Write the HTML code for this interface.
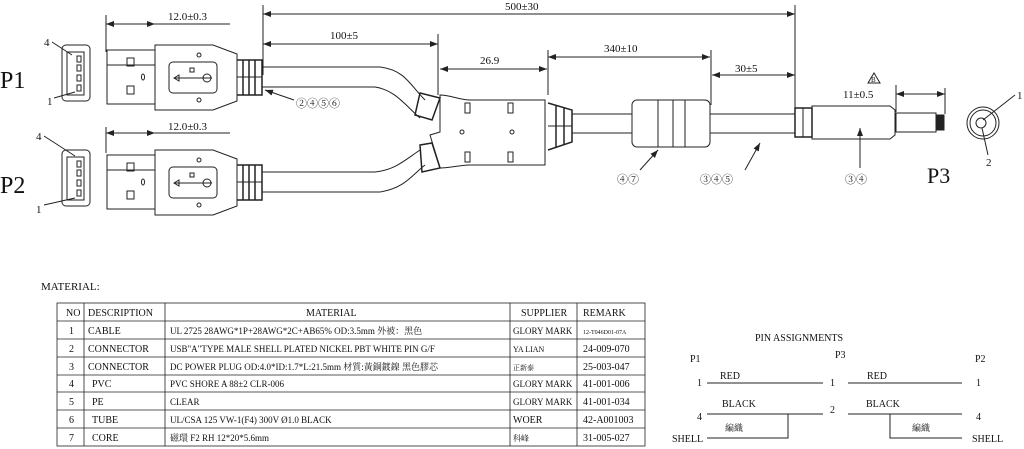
<!DOCTYPE html>
<html><head><meta charset="utf-8"><style>
body{margin:0;background:#fff}
svg{display:block}
text{font-family:"Liberation Serif","Noto Serif CJK SC",serif;fill:#111}
.t{font-size:11px}
.s{font-size:10px}
</style></head><body>
<svg width="1024" height="449" viewBox="0 0 1024 449" xmlns="http://www.w3.org/2000/svg" fill="none" stroke="#222" stroke-width="1">
<defs><marker id="a" markerWidth="8" markerHeight="6" refX="8" refY="3" orient="auto-start-reverse"><path d="M0,0 L8,3 L0,6z" fill="#222" stroke="none"/></marker></defs>

<line x1="263" y1="5" x2="263" y2="75"/><line x1="795" y1="5" x2="795" y2="110"/>
<line x1="263" y1="14" x2="795" y2="14" marker-start="url(#a)" marker-end="url(#a)"/>
<text x="505" y="10" class="t" stroke="none">500±30</text>
<line x1="263" y1="44" x2="438" y2="44" marker-start="url(#a)" marker-end="url(#a)"/><line x1="438" y1="34" x2="438" y2="95"/>
<text x="330" y="39" class="t" stroke="none">100±5</text>
<line x1="440" y1="69" x2="547" y2="69" marker-start="url(#a)" marker-end="url(#a)"/><line x1="548" y1="50" x2="548" y2="95"/>
<text x="480" y="64" class="t" stroke="none">26.9</text>
<line x1="548" y1="57" x2="710" y2="57" marker-start="url(#a)" marker-end="url(#a)"/><line x1="711" y1="50" x2="711" y2="105"/>
<text x="604" y="52" class="t" stroke="none">340±10</text>
<line x1="712" y1="75" x2="795" y2="75" marker-start="url(#a)" marker-end="url(#a)"/>
<text x="735" y="72" class="t" stroke="none">30±5</text>
<line x1="106" y1="15" x2="106" y2="52"/><line x1="106" y1="24" x2="155" y2="24" marker-start="url(#a)" marker-end="url(#a)"/><line x1="155" y1="24" x2="230" y2="24"/>
<text x="168" y="20" class="t" stroke="none">12.0±0.3</text>
<line x1="106" y1="127" x2="106" y2="153"/><line x1="106" y1="133" x2="155" y2="133" marker-start="url(#a)" marker-end="url(#a)"/><line x1="155" y1="133" x2="230" y2="133"/>
<text x="168" y="130" class="t" stroke="none">12.0±0.3</text>

<text x="0" y="88" font-size="24" stroke="none">P1</text>
<text x="0" y="193" font-size="24" stroke="none">P2</text>
<text x="927" y="183" font-size="22" stroke="none" font-family="Liberation Sans">P3</text>

<g id="ev">
<rect x="62" y="45" width="28" height="56" rx="4"/><rect x="67" y="52" width="17" height="43"/>
<rect x="77" y="56" width="4" height="6"/><rect x="77" y="65" width="4" height="6"/><rect x="77" y="75" width="4" height="6"/><rect x="77" y="85" width="4" height="6"/>
</g>
<use href="#ev" y="105"/>
<text x="44" y="46" class="t" stroke="none">4</text><line x1="52" y1="42" x2="72" y2="55"/>
<text x="47" y="105" class="t" stroke="none">1</text><line x1="54" y1="98" x2="75" y2="92"/>
<text x="36" y="140" class="t" stroke="none">4</text><line x1="44" y1="136" x2="75" y2="156"/>
<text x="36" y="213" class="t" stroke="none">1</text><line x1="44" y1="205" x2="75" y2="198"/>

<g id="pl">
<rect x="107" y="50" width="48" height="54"/><line x1="107" y1="65" x2="155" y2="65"/>
<rect x="127" y="58" width="7" height="8"/><rect x="127" y="86" width="7" height="8"/><ellipse cx="143" cy="77" rx="1.5" ry="3"/>
<path d="M155,45 H213 L237,54 V101 L213,110 H155Z"/>
<rect x="169" y="62" width="48" height="31" rx="4"/>
<circle cx="199" cy="55" r="2"/><circle cx="199" cy="100" r="2"/>
<line x1="174" y1="78" x2="212" y2="78"/><path d="M174,78 l5,-3 v6z"/><circle cx="207" cy="78" r="4"/><rect x="190" y="68" width="4" height="4"/>
<path d="M237,60 H262 V95 H237" stroke-width="1.5"/><line x1="243" y1="60" x2="243" y2="95" stroke-width="1.5"/><line x1="249" y1="60" x2="249" y2="95" stroke-width="1.5"/><line x1="255" y1="60" x2="255" y2="95" stroke-width="1.5"/><line x1="237" y1="77" x2="262" y2="77"/>
</g>
<use href="#pl" y="105"/>

<path d="M262,67 H380 C405,70 410,85 425,100"/>
<path d="M262,87 H375 C395,90 405,105 420,118"/>
<path d="M262,172 H375 C395,170 405,160 420,150"/>
<path d="M262,192 H380 C405,188 412,175 425,165"/>
<path d="M420,93 L440,98 L432,120 L415,115Z" stroke-width="1.5"/><path d="M420,145 L432,143 L440,168 L422,172Z" stroke-width="1.5"/>
<path d="M440,95 C450,95 460,100 470,100 H545 V165 H470 C460,165 450,168 440,168 L430,135 L440,132Z" />
<rect x="465" y="103" width="5" height="10"/><rect x="508" y="103" width="5" height="10"/>
<rect x="465" y="152" width="5" height="10"/><rect x="508" y="152" width="5" height="10"/>
<circle cx="462" cy="132" r="2"/><circle cx="512" cy="132" r="2"/>
<path d="M548,103 L572,110 V142 L548,150" stroke-width="1.5"/><line x1="556" y1="105" x2="556" y2="147" stroke-width="1.5"/><line x1="564" y1="107" x2="564" y2="145" stroke-width="1.5"/><line x1="548" y1="126" x2="572" y2="126"/>

<line x1="572" y1="114" x2="632" y2="114"/><line x1="572" y1="133" x2="632" y2="133"/>
<rect x="632" y="100" width="78" height="47" rx="5"/><line x1="658" y1="100" x2="658" y2="147"/><line x1="673" y1="100" x2="673" y2="147"/><line x1="685" y1="100" x2="685" y2="147"/>
<line x1="710" y1="114" x2="795" y2="114"/><line x1="710" y1="133" x2="795" y2="133"/>
<path d="M795,108 H812 V137 H795Z" stroke-width="1.5"/><line x1="803" y1="108" x2="803" y2="137"/>
<path d="M812,106 H890 L895,110 V135 L890,139 H812Z"/>
<rect x="896" y="113" width="40" height="19"/><rect x="936" y="115" width="8" height="15" fill="#222"/>
<line x1="896" y1="85" x2="896" y2="112"/><line x1="945" y1="88" x2="945" y2="114"/>
<line x1="896" y1="94" x2="945" y2="94" marker-start="url(#a)" marker-end="url(#a)"/>
<text x="843" y="98" class="t" stroke="none">11±0.5</text>
<path d="M868,83 L874,73 L880,83Z"/><text x="871" y="82" font-size="7" stroke="none">B</text>
<circle cx="983" cy="123" r="16"/><circle cx="983" cy="123" r="13"/><circle cx="981" cy="123" r="5"/>
<line x1="983" y1="120" x2="1015" y2="95"/><text x="1017" y="99" class="t" stroke="none">1</text>
<line x1="982" y1="128" x2="988" y2="155"/><text x="986" y="166" class="t" stroke="none">2</text>

<line x1="294" y1="100" x2="265" y2="90" marker-end="url(#a)"/>
<g class="t" stroke="none" font-size="13"><text x="296" y="107">②④⑤⑥</text>
<text x="617" y="183">④⑦</text><text x="700" y="183">③④⑤</text><text x="845" y="183">③④</text></g>
<line x1="640" y1="170" x2="658" y2="150" marker-end="url(#a)"/>
<line x1="745" y1="170" x2="760" y2="143" marker-end="url(#a)"/>
<line x1="860" y1="168" x2="860" y2="128" marker-end="url(#a)"/>

<text x="41" y="290" class="t" stroke="none">MATERIAL:</text>
<g stroke-width="0.8">
<rect x="57" y="303" width="588" height="143"/>
<line x1="57" y1="321" x2="645" y2="321"/><line x1="57" y1="339" x2="645" y2="339"/><line x1="57" y1="357" x2="645" y2="357"/><line x1="57" y1="375" x2="645" y2="375"/><line x1="57" y1="392" x2="645" y2="392"/><line x1="57" y1="410" x2="645" y2="410"/><line x1="57" y1="428" x2="645" y2="428"/>
<line x1="84" y1="303" x2="84" y2="446"/><line x1="165" y1="303" x2="165" y2="446"/><line x1="510" y1="303" x2="510" y2="446"/><line x1="577" y1="303" x2="577" y2="446"/>
</g>
<g class="s" stroke="none">
<text x="66" y="316">NO</text><text x="88" y="316">DESCRIPTION</text><text x="306" y="316">MATERIAL</text><text x="521" y="316">SUPPLIER</text><text x="583" y="316">REMARK</text>
<text x="69" y="334">1</text><text x="88" y="334">CABLE</text><text x="170" y="334" font-size="9">UL 2725 28AWG*1P+28AWG*2C+AB65%  OD:3.5mm 外被：黑色</text><text x="513" y="334" font-size="9">GLORY MARK</text><text x="583" y="334" font-size="6">12-T046D01-07A</text>
<text x="69" y="352">2</text><text x="88" y="352">CONNECTOR</text><text x="170" y="352" font-size="9">USB"A"TYPE MALE SHELL PLATED NICKEL PBT WHITE PIN G/F</text><text x="513" y="352" font-size="8">YA LIAN</text><text x="583" y="352">24-009-070</text>
<text x="69" y="370">3</text><text x="88" y="370">CONNECTOR</text><text x="170" y="370" font-size="9">DC  POWER PLUG OD:4.0*ID:1.7*L:21.5mm 材質:黃銅鍍鎳 黑色膠芯</text><text x="513" y="370" font-size="7">正新泰</text><text x="583" y="370">25-003-047</text>
<text x="69" y="387">4</text><text x="92" y="387">PVC</text><text x="170" y="387" font-size="9">PVC SHORE A 88±2 CLR-006</text><text x="513" y="387" font-size="9">GLORY MARK</text><text x="583" y="387">41-001-006</text>
<text x="69" y="405">5</text><text x="92" y="405">PE</text><text x="170" y="405" font-size="9">CLEAR</text><text x="513" y="405" font-size="9">GLORY MARK</text><text x="583" y="405">41-001-034</text>
<text x="69" y="423">6</text><text x="92" y="423">TUBE</text><text x="170" y="423" font-size="9">UL/CSA 125  VW-1(F4) 300V Ø1.0  BLACK</text><text x="513" y="423">WOER</text><text x="583" y="423">42-A001003</text>
<text x="69" y="441">7</text><text x="92" y="441">CORE</text><text x="170" y="441" font-size="9">磁環  F2  RH  12*20*5.6mm</text><text x="513" y="441" font-size="8">科峰</text><text x="583" y="441">31-005-027</text>
</g>

<g class="s" stroke="none">
<text x="755" y="341">PIN ASSIGNMENTS</text>
<text x="690" y="362">P1</text><text x="835" y="358">P3</text><text x="975" y="362">P2</text>
<text x="697" y="386">1</text><text x="720" y="379">RED</text><text x="830" y="386">1</text><text x="867" y="379">RED</text><text x="976" y="386">1</text>
<text x="697" y="420">4</text><text x="722" y="407">BLACK</text><text x="830" y="413">2</text><text x="866" y="407">BLACK</text><text x="976" y="420">4</text>
<text x="672" y="442">SHELL</text><text x="725" y="431" font-size="9">編織</text><text x="912" y="431" font-size="9">編織</text><text x="972" y="442">SHELL</text>
</g>
<line x1="707" y1="383" x2="823" y2="383"/><line x1="848" y1="383" x2="962" y2="383"/>
<line x1="707" y1="414" x2="823" y2="414"/><line x1="848" y1="414" x2="962" y2="414"/>
<path d="M707,438 H788 V414"/><path d="M890,414 V438 H962"/>
</svg>
</body></html>
